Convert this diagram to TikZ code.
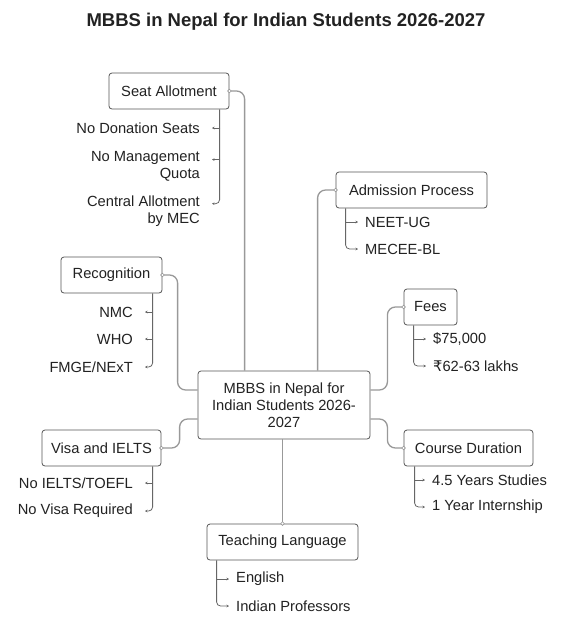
\documentclass[tikz,border=0pt]{standalone}
\usepackage{fontspec}
\setmainfont{Liberation Sans}
\newfontfamily\dejavu{DejaVu Sans}
\usetikzlibrary{calc,arrows.meta}
\definecolor{txt}{HTML}{222222}
\definecolor{bord}{HTML}{555555}
\definecolor{connc}{HTML}{999999}
\definecolor{chl}{HTML}{666666}
\begin{document}
\begin{tikzpicture}[x=1pt,y=-1pt,
  every node/.style={text=txt, font=\fontsize{14.7}{17.5}\selectfont},
  box/.style={draw=bord, line width=0.8pt, rounded corners=3pt, inner sep=0pt, minimum height=36pt, fill=white},
  conn/.style={draw=connc, line width=1.3pt, rounded corners=8pt},
  child/.style={draw=chl, line width=0.8pt, rounded corners=4pt, -{Stealth[length=2.5pt,width=2.5pt]}},
  dotc/.style={draw=connc, fill=white, line width=0.6pt},
  iteml/.style={anchor=east, inner sep=0pt, align=right},
  itemr/.style={anchor=west, inner sep=0pt, align=left}]
\useasboundingbox (0,0) rectangle (572,635);
\fill[white] (0,0) rectangle (572,635);

\node[font=\bfseries\fontsize{18.5}{22}\selectfont] (title) at (286,22) {MBBS in Nepal for Indian Students 2026-2027};

% boxes
\node[box, minimum width=172pt, minimum height=68pt, align=center, font=\fontsize{14.7}{17}\selectfont] (center) at (284,405) {MBBS in Nepal for\\Indian Students 2026-\\2027};
\node[box, minimum width=120pt] (seat) at (169,91) {Seat Allotment};
\node[box, minimum width=151pt] (adm) at (411.5,190) {Admission Process};
\node[box, minimum width=53pt] (fees) at (430.5,307) {Fees};
\node[box, minimum width=101pt] (rec) at (111.5,275) {Recognition};
\node[box, minimum width=119pt] (visa) at (101.5,448) {Visa and IELTS};
\node[box, minimum width=129pt] (course) at (468.5,448) {Course Duration};
\node[box, minimum width=151pt] (teach) at (282.5,542) {Teaching Language};

% main connectors
\draw[conn] (seat.east) -| ($(center.north west)+(47,0)$);
\draw[conn] (adm.west) -| ($(center.north west)+(120,0)$);
\draw[conn] (rec.east) -| ($(center.west)+(-20,-15)$) -- ($(center.west)+(0,-15)$);
\draw[conn] (visa.east) -| ($(center.west)+(-18,14)$) -- ($(center.west)+(0,14)$);
\draw[conn] (fees.west) -| ($(center.east)+(17,-15)$) -- ($(center.east)+(0,-15)$);
\draw[conn] (course.west) -| ($(center.east)+(17,14)$) -- ($(center.east)+(0,14)$);
\draw[conn] (teach.north) -- (teach.north |- center.south);
\foreach \n/\a in {seat/east,adm/west,fees/west,rec/east,visa/east,course/west,teach/north}
  \draw[dotc] (\n.\a) circle (1.8pt);

% Seat Allotment children
\node[iteml] (s1) at (200,128) {No Donation Seats};
\node[iteml] (s2) at (200,166.5) {No Management\\Quota};
\node[iteml] (s3) at (200,211) {Central Allotment\\by MEC};
\draw[child] ($(seat.south west)+(111,0)$) |- ([shift={(12,8.5)}]s3.north east);
\draw[child] ([xshift=20]s1.east) -- ([xshift=12]s1.east);
\draw[child] ([shift={(20,8.5)}]s2.north east) -- ([shift={(12,8.5)}]s2.north east);

% Admission children
\node[itemr] (a1) at (365,222) {NEET-UG};
\node[itemr] (a2) at (365,249) {MECEE-BL};
\draw[child] ($(adm.south west)+(10,0)$) |- ([xshift=-7]a2.west);
\draw[child] ([xshift=-19]a1.west) -- ([xshift=-7]a1.west);

% Fees children
\node[itemr] (f1) at (433,339) {\$75,000};
\node[itemr] (f2) at (433,366) {{\dejavu ₹}62-63 lakhs};
\draw[child] ($(fees.south west)+(10,0)$) |- ([xshift=-7]f2.west);
\draw[child] ([xshift=-19]f1.west) -- ([xshift=-7]f1.west);

% Recognition children
\node[iteml] (r1) at (133,312) {NMC};
\node[iteml] (r2) at (133,339) {WHO};
\node[iteml] (r3) at (133,367) {FMGE/NExT};
\draw[child] ($(rec.south west)+(92,0)$) |- ([xshift=12]r3.east);
\draw[child] ([xshift=20]r1.east) -- ([xshift=12]r1.east);
\draw[child] ([xshift=20]r2.east) -- ([xshift=12]r2.east);

% Visa children
\node[iteml] (v1) at (133,483) {No IELTS/TOEFL};
\node[iteml] (v2) at (133,511) {No Visa Required};
\draw[child] ($(visa.south west)+(111,0)$) |- ([xshift=12]v2.east);
\draw[child] ([xshift=20]v1.east) -- ([xshift=12]v1.east);

% Course children
\node[itemr] (c1) at (432,480) {4.5 Years Studies};
\node[itemr] (c2) at (432,507) {1 Year Internship};
\draw[child] ($(course.south west)+(11,0)$) |- ([xshift=-7]c2.west);
\draw[child] ([xshift=-17]c1.west) -- ([xshift=-7]c1.west);

% Teaching children
\node[itemr] (t1) at (236,579) {English};
\node[itemr] (t2) at (236,606) {Indian Professors};
\draw[child] ($(teach.south west)+(10,0)$) |- ([xshift=-7]t2.west);
\draw[child] ([xshift=-19]t1.west) -- ([xshift=-7]t1.west);
\end{tikzpicture}
\end{document}
